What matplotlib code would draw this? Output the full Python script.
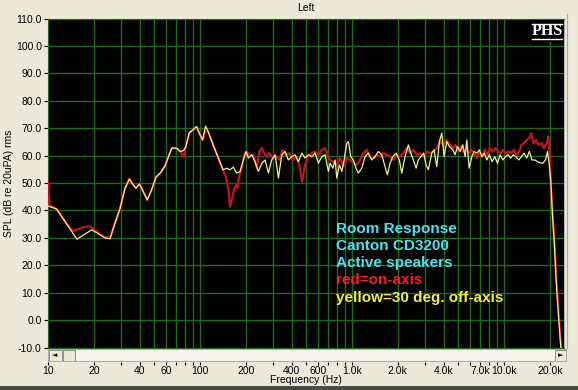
import matplotlib.pyplot as plt
from matplotlib.patches import Rectangle
from matplotlib.ticker import FixedLocator, NullFormatter

plt.rcParams['font.family'] = ['Liberation Sans', 'DejaVu Sans']

# on-axis (red) response, Hz / dB
red_freq = [10, 10.2, 11.4, 13.3, 14.7, 17.1, 18.9, 20.9, 23.7, 25.6,
            26.9, 29.8, 32.1, 34.3, 36.4, 37.9, 39.9, 42.3, 45.0, 48.0,
            51.3, 55.1, 58.8, 62.0, 65.2, 70.2, 74.1, 77.7, 80.8, 84.9,
            89.7, 95.0, 98.9, 104, 108.8, 113, 122, 132, 141, 148,
            154, 157.6, 162, 167, 173, 176, 181, 188, 195, 203,
            213, 224, 236, 246, 255, 264, 275, 286, 301, 316,
            333, 350, 368, 387, 408, 429, 450, 469, 491, 516,
            544, 572, 601, 633, 665, 699, 718, 754, 794, 835,
            878, 924, 972, 1020, 1074, 1129, 1186, 1249, 1314, 1382,
            1454, 1529, 1607, 1692, 1779, 1874, 1969, 2070, 2177, 2291,
            2409, 2533, 2666, 2803, 2960, 3103, 3262, 3430, 3610, 3796,
            3990, 4200, 4417, 4602, 4790, 4987, 5193, 5408, 5630, 5865,
            6100, 6356, 6620, 6888, 7175, 7470, 7780, 8100, 8430, 8780,
            9144, 9530, 9900, 10310, 10740, 11170, 11630, 12130, 12600, 13000,
            13540, 14100, 14670, 15120, 15590, 16240, 16920, 17600, 18340, 19100,
            19570, 19900, 20390, 21020, 21670, 22330, 23020, 23930]
red_db = [51.0, 42.0, 40.5, 35.0, 32.5, 33.9, 34.2, 32.3, 30.2, 30.2,
          33.5, 40.8, 48.1, 51.6, 49.3, 48.1, 49.7, 46.9, 43.8, 47.5,
          52.1, 53.8, 56.2, 59.6, 62.7, 62.7, 61.5, 59.6, 63.3, 68.2,
          69.4, 70.4, 68.2, 65.7, 68.9, 68.8, 63.9, 59.1, 54.8, 52.3,
          47.5, 41.4, 43.8, 47.5, 49.3, 48.1, 52.3, 55.4, 60.3, 61.5,
          59.6, 60.3, 55.4, 61.5, 62.7, 60.9, 59.6, 60.9, 59.1, 59.6,
          58.4, 62.1, 60.3, 60.9, 58.4, 59.6, 56.6, 50.5, 56.6, 59.6,
          60.9, 61.5, 60.3, 62.1, 62.7, 59.6, 58.4, 57.8, 56.6, 59.1,
          56.0, 59.1, 58.4, 57.2, 56.6, 58.4, 60.9, 62.1, 59.6, 59.1,
          60.3, 59.6, 60.9, 60.3, 59.6, 58.4, 60.3, 59.6, 60.9, 62.7,
          60.9, 62.1, 60.3, 60.9, 59.6, 61.5, 60.9, 61.5, 62.7, 65.1,
          63.9, 65.7, 63.9, 62.7, 63.9, 61.5, 63.3, 61.5, 62.1, 60.9,
          62.1, 60.9, 59.1, 61.5, 59.6, 62.1, 60.3, 62.7, 61.5, 62.7,
          61.5, 60.9, 62.1, 60.9, 61.5, 60.9, 62.1, 60.3, 61.5, 63.9,
          64.5, 65.7, 66.4, 68.2, 64.5, 65.7, 63.9, 64.5, 62.7, 64.5,
          67.0, 62.0, 48.0, 36.0, 24.0, 11.0, 0.0, -12.0]

# 30 deg off-axis (yellow) response, Hz / dB
yel_freq = [10, 11.4, 13.3, 15.5, 17.3, 19.4, 21.0, 23.7, 25.6, 26.9,
            29.8, 32.1, 34.3, 36.4, 37.9, 39.9, 42.3, 45.0, 48.0, 51.3,
            55.1, 58.8, 62.0, 65.2, 70.2, 74.1, 77.7, 80.8, 84.9, 89.7,
            95.0, 98.9, 104, 108.8, 113, 122, 132, 142, 150, 157.6,
            165.6, 174.4, 183.4, 192.8, 200.8, 208, 219, 230, 242, 255,
            268, 282, 296, 312, 328, 345, 363, 381, 401, 422,
            444, 467, 491, 516, 544, 572, 601, 633, 665, 699,
            718, 748, 774, 794, 826, 857, 887, 924, 947, 981,
            1020, 1062, 1100, 1158, 1218, 1280, 1348, 1417, 1490, 1568,
            1649, 1708, 1779, 1853, 1948, 2049, 2124, 2233, 2348, 2435,
            2533, 2638, 2732, 2833, 2960, 3070, 3179, 3347, 3466, 3610,
            3756, 3895, 4033, 4200, 4370, 4602, 4765, 4935, 5140, 5355,
            5546, 5690, 5892, 6140, 6356, 6620, 6888, 7143, 7430, 7705,
            8010, 8349, 8700, 9050, 9426, 9810, 10200, 10625, 11070, 11500,
            11990, 12490, 13000, 13540, 14100, 14670, 15290, 15930, 16570, 17260,
            17970, 18740, 19300, 19780, 20300, 20800, 21430, 22000, 22770, 23620,
            24300]
yel_db = [41.6, 40.5, 35.0, 29.5, 31.2, 32.9, 31.8, 30.0, 29.6, 33.5,
          40.8, 48.1, 51.4, 49.3, 48.1, 49.7, 46.9, 43.8, 47.5, 52.1,
          53.8, 56.2, 59.6, 62.7, 62.7, 61.5, 61.8, 63.3, 68.2, 69.4,
          70.6, 68.2, 65.7, 70.8, 68.8, 63.9, 59.1, 54.8, 55.4, 54.8,
          55.8, 53.6, 54.2, 58.4, 61.5, 59.1, 60.3, 57.8, 54.2, 57.2,
          58.4, 53.6, 58.4, 60.3, 51.8, 60.3, 61.5, 58.4, 59.6, 60.3,
          57.8, 60.9, 59.1, 60.3, 59.6, 60.9, 57.2, 59.6, 60.3, 54.2,
          57.2, 55.4, 58.4, 51.8, 56.6, 54.2, 58.4, 64.5, 65.1, 59.6,
          58.4, 55.4, 53.6, 55.4, 59.6, 60.9, 58.4, 59.6, 61.5, 60.3,
          56.0, 53.0, 57.2, 59.6, 60.9, 58.4, 53.6, 59.6, 63.9, 60.9,
          58.4, 55.4, 58.4, 59.6, 60.9, 56.6, 54.8, 60.9, 62.1, 56.0,
          65.1, 68.2, 59.6, 65.1, 63.3, 62.1, 60.3, 63.3, 61.5, 63.9,
          59.6, 65.7, 55.4, 59.6, 61.5, 60.9, 62.1, 59.6, 60.9, 58.4,
          60.3, 57.8, 59.6, 57.2, 60.3, 58.4, 59.6, 60.3, 59.1, 60.3,
          59.6, 58.4, 59.6, 60.9, 59.1, 61.5, 58.4, 58.4, 57.8, 57.4,
          57.2, 58.4, 61.5, 57.2, 50.9, 38.8, 27.9, 14.5, 2.3, -9.9,
          -16.0]

grid_freq = [20, 30, 40, 50, 60, 70, 80, 90, 100, 200, 300, 400, 500, 600,
             700, 800, 900, 1000, 2000, 3000, 4000, 5000, 6000, 7000, 8000,
             9000, 10000, 20000]
label_freq = [10, 20, 40, 60, 100, 200, 400, 600, 1000, 2000, 4000, 7000,
              10000, 20000]
label_text = ['10', '20', '40', '60', '100', '200', '400', '600', '1.0k',
              '2.0k', '4.0k', '7.0k', '10.0k', '20.0k']
y_ticks = list(range(-10, 111, 10))

W, H = 578, 390
bg = '#ece9d8'
grid_c = '#1d6a1d'


def fx(px):
    return px / W


def fy(py):
    return 1 - py / H


fig = plt.figure(figsize=(W / 100, H / 100), dpi=100, facecolor=bg)

ax = fig.add_axes([fx(48), fy(347.5), (564 - 48) / W, (347.5 - 18.5) / H])
ax.set_facecolor('black')
ax.set_xscale('log')
ax.set_xlim(10, 24800)
ax.set_ylim(-10, 110)
ax.xaxis.set_major_locator(FixedLocator(grid_freq))
ax.xaxis.set_minor_locator(FixedLocator([]))
ax.tick_params(axis='x', which='both', length=0, labelbottom=False)
ax.set_yticks(y_ticks)
ax.set_yticklabels(['%.1f' % v for v in y_ticks])
ax.tick_params(axis='y', length=3, width=0.8, labelsize=7.5, pad=1.5)
ax.grid(True, color=grid_c, lw=1.0)
ax.set_axisbelow(True)
for s in ax.spines.values():
    s.set_color(grid_c)
ax.spines['right'].set_color('#b0b0b0')

ax.plot(red_freq, red_db, color='#c4141c', lw=1.6, zorder=3)
ax.plot(yel_freq, yel_db, color='#f3f08c', lw=0.9, zorder=4)

# PHS logo, black box hides the 20k gridline above it
ax.add_patch(Rectangle((fx(529), fy(42)), fx(563) - fx(529), fy(19) - fy(42),
                       transform=fig.transFigure, facecolor='black',
                       edgecolor='none', zorder=2))
fig.text(fx(547), fy(31), 'PHS', color='white', fontsize=11.5, weight='bold',
         family=['Liberation Serif', 'DejaVu Serif'], ha='center', va='center')
fig.add_artist(plt.Line2D([fx(531.5), fx(562)], [fy(23.5), fy(23.5)],
                          color='white', lw=1.0))
fig.add_artist(plt.Line2D([fx(531.5), fx(562)], [fy(38.5), fy(38.5)],
                          color='white', lw=1.0))

notes = [('Room Response', '#48e4f0'), ('Canton CD3200', '#48e4f0'),
         ('Active speakers', '#48e4f0'), ('red=on-axis', '#ff1c1c'),
         ('yellow=30 deg. off-axis', '#f2f040')]
for i, (t, c) in enumerate(notes):
    fig.text(fx(336), fy(228.5 + i * 17.3), t, color=c, fontsize=11,
             weight='bold', ha='left', va='center')

fig.text(fx(306), fy(8), 'Left', fontsize=7.5, ha='center', va='center')
fig.text(fx(9), fy(183), 'SPL (dB re 20uPA) rms', fontsize=7.5,
         rotation=90, ha='center', va='center')
fig.text(fx(306), fy(380), 'Frequency (Hz)', fontsize=7.5,
         ha='center', va='center')

# scroll bar under the plot
sb = fig.add_axes([fx(48), fy(361), (566 - 48) / W, 12 / H])
sb.set_xlim(0, 518)
sb.set_ylim(0, 12)
sb.set_facecolor('#f6f5f0')
sb.set_xticks([])
sb.set_yticks([])
for s in sb.spines.values():
    s.set_color('#a0a0a0')
    s.set_linewidth(0.6)
for x0, w in [(0.5, 13), (14.5, 12.5), (507, 10.5)]:
    sb.add_patch(Rectangle((x0, 0.5), w, 11, facecolor='#ece9d8',
                           edgecolor='#808080', lw=0.6))
sb.text(7, 6, '\u25c4', fontsize=5, ha='center', va='center',
        family='DejaVu Sans')
sb.text(512.2, 6, '\u25ba', fontsize=5, ha='center', va='center',
        family='DejaVu Sans')

# frequency labels below the scroll bar
axl = fig.add_axes([fx(48), fy(361.5), (564 - 48) / W, 0.0001])
axl.set_xscale('log')
axl.set_xlim(10, 24800)
axl.patch.set_visible(False)
for s in axl.spines.values():
    s.set_visible(False)
axl.set_yticks([])
axl.xaxis.set_major_locator(FixedLocator(label_freq))
axl.set_xticklabels(label_text)
axl.xaxis.set_minor_locator(FixedLocator([f for f in grid_freq
                                          if f not in label_freq]))
axl.xaxis.set_minor_formatter(NullFormatter())
axl.tick_params(axis='x', which='both', length=2, width=0.8,
                labelsize=7.5, pad=1.0)

# side panel edge and bottom band
fig.add_artist(plt.Line2D([fx(566.5), fx(566.5)], [fy(14), fy(348)],
                          color='#a8a8a0', lw=0.8))
fig.add_artist(Rectangle((0, 0), 1, 4 / H, transform=fig.transFigure,
                         facecolor='#4a4a4a', edgecolor='none'))

fig.savefig('out.png', dpi=100, facecolor=bg)
